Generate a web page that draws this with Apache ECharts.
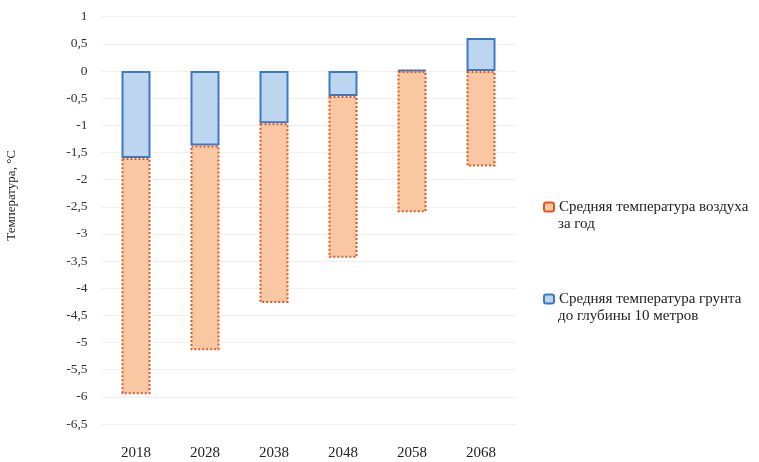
<!DOCTYPE html>
<html>
<head>
<meta charset="utf-8">
<script src="https://cdn.jsdelivr.net/npm/echarts@6/dist/echarts.min.js"></script>
<style>
  html, body { margin: 0; padding: 0; background: #ffffff; }
  #chart { width: 759px; height: 462px; }
</style>
</head>
<body>
<div id="chart"></div>
<script>
// Decades shown along the horizontal axis
const years = ['2018', '2028', '2038', '2048', '2058', '2068'];

// Ground temperature down to 10 m depth, °C (lower segment of each column)
const groundTemp = [-1.6, -1.37, -0.96, -0.46, 0.02, 0.61];

// Air temperature segment stacked on the ground value, °C
const airTemp = [-4.35, -3.77, -3.31, -2.98, -2.6, -1.76];

// Series names, each wrapped onto two lines in the legend
const airName = ['Средняя температура воздуха', 'за год'];
const groundName = ['Средняя температура грунта', 'до глубины 10 метров'];

const serif = '"Liberation Serif", "DejaVu Serif", serif';
const legendFont = 15;

const chart = echarts.init(document.getElementById('chart'), null, { renderer: 'canvas' });

// The legend shows the first line beside the marker; the continuation line sits beneath it
function continuation(text, y) {
  return {
    type: 'text',
    left: 558,
    top: y,
    style: { text: text, font: legendFont + 'px ' + serif, fill: '#222222' }
  };
}

chart.setOption({
  animation: false,
  backgroundColor: '#ffffff',
  grid: { left: 101.5, right: 243.5, top: 16.7, bottom: 38, containLabel: false },
  legend: {
    orient: 'vertical',
    left: 543,
    top: 198,
    padding: 0,
    itemGap: 74,
    itemWidth: 10,
    itemHeight: 9,
    data: [airName.join(' '), groundName.join(' ')],
    formatter: name => name === airName.join(' ') ? airName[0] : groundName[0],
    textStyle: { fontFamily: serif, fontSize: legendFont, color: '#222222', lineHeight: 18 }
  },
  graphic: [
    {
      type: 'text',
      left: 5,
      top: 150,
      rotation: Math.PI / 2,
      style: { text: 'Температура, °C', font: '13px ' + serif, fill: '#222222' }
    },
    continuation(airName[1], 217),
    continuation(groundName[1], 309)
  ],
  xAxis: {
    type: 'category',
    data: years,
    axisLine: { show: false },
    axisTick: { show: false },
    axisLabel: { fontFamily: serif, fontSize: 15, color: '#222222', margin: 22 }
  },
  yAxis: {
    type: 'value',
    min: -6.5,
    max: 1,
    interval: 0.5,
    axisLine: { show: false },
    axisTick: { show: false },
    axisLabel: {
      fontFamily: serif, fontSize: 13.5, color: '#333333', margin: 14,
      formatter: v => String(Math.round(v * 10) / 10).replace('.', ',')
    },
    splitLine: { show: true, lineStyle: { color: '#efefef', width: 1 } }
  },
  series: [
    {
      name: groundName.join(' '),
      type: 'bar',
      stack: 'temp',
      data: groundTemp,
      barWidth: 29,
      itemStyle: { color: '#bcd6ef', borderColor: '#3f78c2', borderWidth: 2 }
    },
    {
      name: airName.join(' '),
      type: 'bar',
      stack: 'temp',
      data: airTemp,
      barWidth: 29,
      itemStyle: { color: '#f9c8a3', borderColor: '#e2561f', borderWidth: 2, borderType: [2, 2] }
    }
  ]
});
</script>
</body>
</html>
